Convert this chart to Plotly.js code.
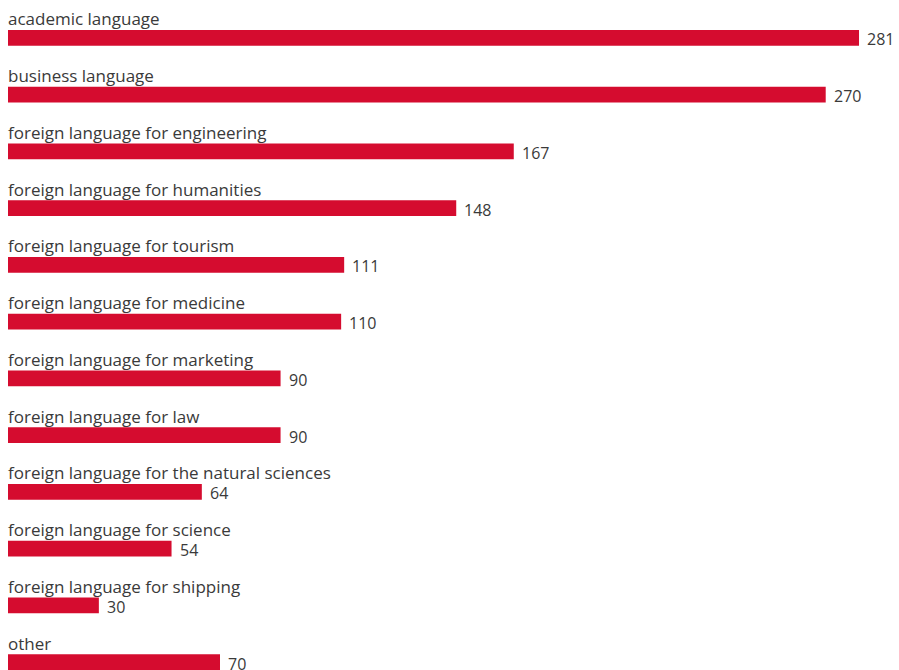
<!DOCTYPE html>
<html>
<head>
<meta charset="utf-8">
<script src="https://cdn.plot.ly/plotly-3.0.1.min.js"></script>
<style>html,body{margin:0;padding:0;background:#fff;}#chart{width:899px;height:670px;}</style>
</head>
<body>
<div id="chart"></div>
<script>
const categories = [
  "academic language",
  "business language",
  "foreign language for engineering",
  "foreign language for humanities",
  "foreign language for tourism",
  "foreign language for medicine",
  "foreign language for marketing",
  "foreign language for law",
  "foreign language for the natural sciences",
  "foreign language for science",
  "foreign language for shipping",
  "other"
];
const values = [281, 270, 167, 148, 111, 110, 90, 90, 64, 54, 30, 70];

const barColor = "#d50c2f";
const textColor = "#3a3a3a";
const fontFamily = "'Open Sans', 'Noto Sans', sans-serif";

const labelAnnotations = categories.map((c, i) => ({
  x: 0, y: c, xref: "x", yref: "y",
  text: c, showarrow: false,
  xanchor: "left", yanchor: "middle",
  borderpad: 0,
  yshift: 19, xshift: -1,
  font: {family: fontFamily, size: 17, color: textColor}
}));
const valueAnnotations = categories.map((c, i) => ({
  x: values[i], y: c, xref: "x", yref: "y",
  text: String(values[i]), showarrow: false,
  xanchor: "left", yanchor: "middle",
  borderpad: 0,
  xshift: 7, yshift: -1.5,
  font: {family: fontFamily, size: 16, color: textColor}
}));

const trace = {
  type: "bar",
  orientation: "h",
  x: values,
  y: categories,
  width: 0.277,
  marker: {color: barColor},
  hoverinfo: "none"
};

const layout = {
  width: 899, height: 670,
  margin: {l: 8, r: 0, t: 0, b: 0, pad: 0},
  paper_bgcolor: "#fff", plot_bgcolor: "#fff",
  showlegend: false,
  xaxis: {range: [0, 294.2], showgrid: false, zeroline: false, showticklabels: false, showline: false, ticks: ""},
  yaxis: {type: "category", range: [11.138, -0.666], showgrid: false, zeroline: false, showticklabels: false, showline: false, ticks: ""},
  annotations: labelAnnotations.concat(valueAnnotations)
};

Plotly.newPlot("chart", [trace], layout, {displayModeBar: false, staticPlot: true});
</script>
</body>
</html>
